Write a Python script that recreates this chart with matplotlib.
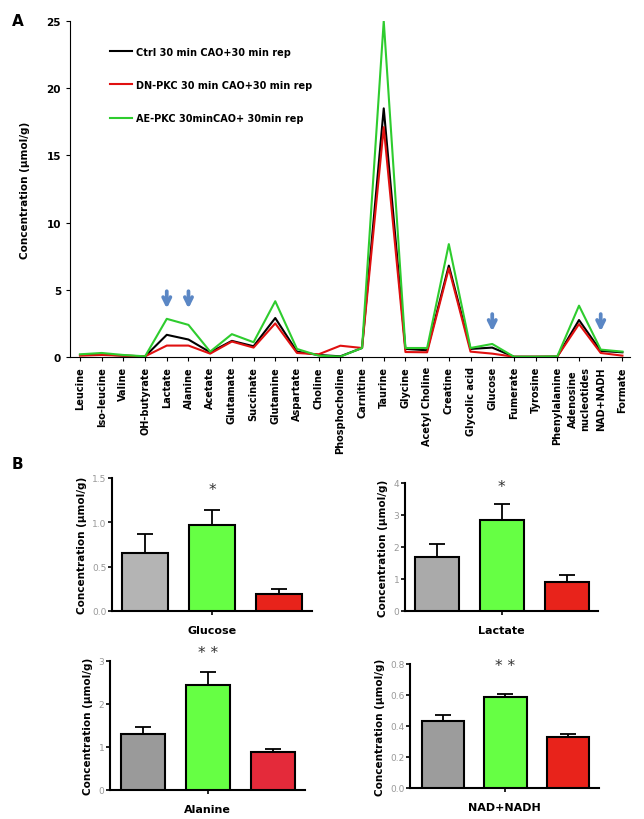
import matplotlib.pyplot as plt

plt.rcParams['font.family'] = 'DejaVu Sans'

metabolites = ['Leucine', 'Iso-leucine', 'Valine', 'OH-butyrate', 'Lactate', 'Alanine', 'Acetate',
               'Glutamate', 'Succinate', 'Glutamine', 'Aspartate', 'Choline', 'Phosphocholine',
               'Carnitine', 'Taurine', 'Glycine', 'Acetyl Choline', 'Creatine', 'Glycolic acid',
               'Glucose', 'Fumerate', 'Tyrosine', 'Phenylalanine', 'Adenosine\nnucleotides',
               'NAD+NADH', 'Formate']
ctrl = [0.15, 0.2, 0.1, 0.05, 1.65, 1.3, 0.35, 1.2, 0.8, 2.9, 0.4, 0.15, 0.05, 0.67, 18.5,
        0.6, 0.5, 6.8, 0.6, 0.7, 0.02, 0.02, 0.03, 2.75, 0.45, 0.35]
dn_pkc = [0.1, 0.15, 0.1, 0.05, 0.85, 0.85, 0.25, 1.15, 0.7, 2.5, 0.3, 0.2, 0.84, 0.67, 17.1,
          0.37, 0.35, 6.6, 0.4, 0.25, 0.02, 0.02, 0.03, 2.45, 0.3, 0.1]
ae_pkc = [0.2, 0.3, 0.15, 0.05, 2.84, 2.39, 0.4, 1.7, 1.1, 4.15, 0.6, 0.1, 0.03, 0.67, 25.0,
          0.67, 0.67, 8.4, 0.67, 0.97, 0.02, 0.02, 0.05, 3.82, 0.55, 0.4]
series_names = ['Ctrl 30 min CAO+30 min rep', 'DN-PKC 30 min CAO+30 min rep',
                'AE-PKC 30minCAO+ 30min rep']
arrow_targets = ['Lactate', 'Alanine', 'Glucose', 'NAD+NADH']

# panel B: bars (Ctrl, AE-PKC, DN-PKC)
b_names = ['Glucose', 'Lactate', 'Alanine', 'NAD+NADH']
b_means = [[0.65, 0.97, 0.19], [1.7, 2.83, 0.9], [1.3, 2.45, 0.88], [0.43, 0.59, 0.33]]
b_errs = [[0.22, 0.17, 0.06], [0.4, 0.5, 0.22], [0.16, 0.3, 0.07], [0.04, 0.015, 0.02]]
b_stars = ['*', '*', '* *', '* *']
b_yticks = [[0, 0.5, 1.0, 1.5], [0, 1, 2, 3, 4], [0, 1, 2, 3], [0, 0.2, 0.4, 0.6, 0.8]]
b_fmt = ['{:.1f}', '{:.0f}', '{:.0f}', '{:.1f}']

fig = plt.figure(figsize=(6.44, 8.2), dpi=100)

# ---------------- panel A
ax = fig.add_axes([70/644, 1-358/820, 560/644, 336/820])
xs = list(range(len(metabolites)))
ax.plot(xs, ctrl, color='black', lw=1.5, label=series_names[0])
ax.plot(xs, dn_pkc, color='#e01010', lw=1.5, label=series_names[1])
ax.plot(xs, ae_pkc, color='#2ecc2e', lw=1.5, label=series_names[2])
ax.set_xlim(-0.46, 25.35)
ax.set_ylim(0, 25)
ax.set_yticks([0, 5, 10, 15, 20, 25])
ax.set_xticks(xs)
ax.set_xticklabels(metabolites, rotation=90, fontsize=7, fontweight='bold')
ax.tick_params(axis='y', labelsize=7.5, length=3)
for t in ax.get_yticklabels():
    t.set_fontweight('bold')
ax.tick_params(axis='x', length=3)
ax.spines['top'].set_visible(False)
ax.spines['right'].set_visible(False)
ax.set_ylabel('Concentration (µmol/g)', fontsize=7.5, fontweight='bold', labelpad=12)
leg = ax.legend(loc='upper left', bbox_to_anchor=(0.055, 0.95), frameon=False,
                prop={'size': 7, 'weight': 'bold'}, handlelength=2.3,
                handletextpad=0.4, labelspacing=2.4)
for name in arrow_targets:
    i = metabolites.index(name)
    top = 5.1 if name in ('Lactate', 'Alanine') else 3.4
    ax.annotate('', xy=(i, top - 1.7), xytext=(i, top),
                arrowprops=dict(arrowstyle='->', color='#5b87c5', lw=2.7, mutation_scale=13))
fig.text(12/644, 1-22/820, 'A', fontsize=11, fontweight='bold', va='center')
fig.text(12/644, 1-465/820, 'B', fontsize=11, fontweight='bold', va='center')

# ---------------- panel B
boxes = [(112, 312, 612, 479, 1.5), (405, 598, 612, 484, 4),
         (110, 305, 791, 662, 3), (410, 599, 789, 665, 0.8)]
xlims = [(-0.49, 2.49), (-0.49, 2.48), (-0.51, 2.49), (-0.53, 2.5)]
star_gap = [0.15, 0.14, 0.15, 0.23]
grays = ['#b4b4b4', '#aaaaaa', '#9a9a9a', '#9c9c9c']
reds = ['#e8231b', '#e8231b', '#e42a3a', '#e8231b']
for k in range(4):
    l, r, b, t, ymax = boxes[k]
    axb = fig.add_axes([l/644, 1-b/820, (r-l)/644, (b-t)/820])
    cols = [grays[k], '#66ff44', reds[k]]
    axb.bar([0, 1, 2], b_means[k], width=0.68, color=cols, edgecolor='black', linewidth=1.5,
            zorder=3)
    axb.errorbar([0, 1, 2], b_means[k], yerr=[[0, 0, 0], b_errs[k]], fmt='none',
                 ecolor='black', elinewidth=1.3, capsize=6, capthick=1.3, zorder=2)
    axb.set_xlim(*xlims[k])
    axb.set_ylim(0, ymax)
    axb.set_yticks(b_yticks[k])
    axb.set_yticklabels([b_fmt[k].format(v) for v in b_yticks[k]], fontsize=6.5, color='#999999')
    axb.set_xticks([1])
    axb.set_xticklabels([''])
    axb.set_xlabel(b_names[k], fontsize=8, fontweight='bold', labelpad=6)
    axb.set_ylabel('Concentration (µmol/g)', fontsize=7.5, fontweight='bold')
    axb.tick_params(axis='both', length=3, width=1.2, pad=1)
    for s in ['top', 'right']:
        axb.spines[s].set_visible(False)
    for s in ['left', 'bottom']:
        axb.spines[s].set_linewidth(1.5)
    top_y = b_means[k][1] + b_errs[k][1]
    axb.text(1, top_y + ymax * star_gap[k], b_stars[k], ha='center', va='center', fontsize=11,
             color='#333333', clip_on=False)

fig.savefig('out.png', dpi=100)
